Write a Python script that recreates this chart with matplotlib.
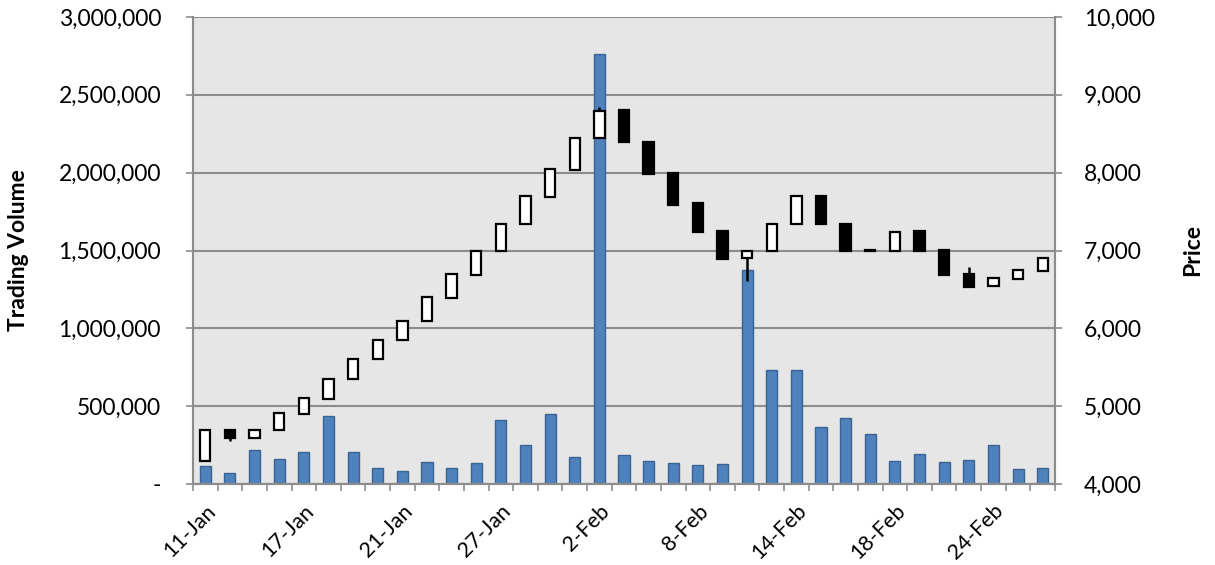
import matplotlib
matplotlib.use("Agg")
import matplotlib.pyplot as plt
from matplotlib.ticker import FuncFormatter

plt.rcParams["font.family"] = ["Lato", "DejaVu Sans"]

dates = ["11-Jan", "12-Jan", "13-Jan", "14-Jan", "17-Jan", "18-Jan", "19-Jan", "20-Jan",
         "21-Jan", "24-Jan", "25-Jan", "26-Jan", "27-Jan", "28-Jan", "31-Jan", "1-Feb",
         "2-Feb", "3-Feb", "4-Feb", "7-Feb", "8-Feb", "9-Feb", "10-Feb", "11-Feb",
         "14-Feb", "15-Feb", "16-Feb", "17-Feb", "18-Feb", "21-Feb", "22-Feb", "23-Feb",
         "24-Feb", "25-Feb", "28-Feb"]
volume = [117000, 69000, 218000, 159000, 207000, 439000, 204000, 105000,
          85000, 143000, 105000, 137000, 411000, 250000, 450000, 173000,
          2760000, 188000, 150000, 137000, 124000, 128000, 1375000, 730000,
          732000, 364000, 424000, 321000, 150000, 195000, 141000, 154000,
          249000, 96000, 105000]
opens = [4300, 4700, 4595, 4694, 4900, 5095, 5345, 5602,
         5846, 6094, 6394, 6690, 6994, 7340, 7691, 8034,
         8441, 8800, 8400, 8000, 7606, 7250, 6900, 7000,
         7340, 7700, 7345, 7010, 7000, 7252, 7004, 6698,
         6545, 6640, 6740]
closes = [4694, 4590, 4694, 4908, 5101, 5349, 5602, 5850,
          6098, 6398, 6698, 6998, 7340, 7700, 8043, 8445,
          8788, 8396, 7983, 7589, 7238, 6891, 6998, 7340,
          7700, 7340, 6990, 6990, 7242, 6990, 6685, 6535,
          6647, 6745, 6900]
highs = [4694, 4700, 4694, 4908, 5101, 5349, 5602, 5850,
         6098, 6398, 6698, 6998, 7340, 7700, 8043, 8445,
         8840, 8800, 8400, 8000, 7606, 7250, 6998, 7340,
         7700, 7700, 7345, 7010, 7242, 7252, 7004, 6792,
         6647, 6745, 6900]
lows = [4300, 4552, 4595, 4694, 4900, 5095, 5345, 5602,
        5846, 6094, 6394, 6690, 6994, 7340, 7691, 8034,
        8441, 8396, 7983, 7589, 7238, 6891, 6604, 7000,
        7340, 7340, 6990, 6990, 7000, 6990, 6685, 6535,
        6545, 6640, 6740]

_BG = "#E6E6E6"; _GRID = "#8C8C8C"; _BAR = "#4F81BD"; _BAR_EDGE = "#3A6393"
_FS = 16.5

x = list(range(len(dates)))
fig = plt.figure(figsize=(12.15, 5.65), dpi=100)
ax = fig.add_axes([193 / 1215, 1 - 484 / 565, (1055 - 193) / 1215, (484 - 17) / 565])
ax.set_facecolor(_BG)
ax.bar(x, volume, width=0.45, color=_BAR, edgecolor=_BAR_EDGE, linewidth=1, zorder=2)
ax.set_xlim(-0.5, len(dates) - 0.5)
ax.set_ylim(0, 3000000)
ax.set_yticks(range(0, 3000001, 500000))
ax.yaxis.set_major_formatter(FuncFormatter(lambda v, p: "-" if v == 0 else f"{v:,.0f}"))
ax.grid(axis="y", color=_GRID, linewidth=1.5, zorder=1)
ax.set_axisbelow(True)

# category boundaries carry the tick marks, labels sit at every 4th centre
ax.set_xticks([i - 0.5 for i in range(len(dates) + 1)])
ax.set_xticklabels([])
ax.set_xticks(x[::4], [dates[i] for i in x[::4]], minor=True)
ax.tick_params(axis="x", which="major", length=5, color=_GRID, width=1.2)
ax.tick_params(axis="x", which="minor", length=0, labelsize=15.5, pad=12)
for lbl in ax.get_xticklabels(minor=True):
    lbl.set_rotation(45); lbl.set_ha("right"); lbl.set_rotation_mode("anchor")
ax.tick_params(axis="y", length=5, color=_GRID, width=1.2, labelsize=_FS, pad=18)
ax.set_ylabel("Trading Volume", fontsize=16.5, fontweight="bold")
ax.yaxis.set_label_coords(-0.19, 0.5)
for side in ["left", "right", "bottom"]:
    ax.spines[side].set_color(_GRID); ax.spines[side].set_linewidth(1.5)
ax.spines["top"].set_visible(False)

ax2 = ax.twinx()
ax2.set_ylim(4000, 10000)
ax2.set_yticks(range(4000, 10001, 1000))
ax2.yaxis.set_major_formatter(FuncFormatter(lambda v, p: f"{v:,.0f}"))
ax2.tick_params(axis="y", length=5, color=_GRID, width=1.2, labelsize=_FS, pad=16)
ax2.set_ylabel("Price", fontsize=16.5, fontweight="bold")
ax2.yaxis.set_label_coords(1.148, 0.5)
for side in ["left", "right", "bottom"]:
    ax2.spines[side].set_color(_GRID); ax2.spines[side].set_linewidth(1.5)
ax2.spines["top"].set_visible(False)

ax2.vlines(x, lows, highs, color="black", linewidth=1.8, zorder=2)
bottoms = [min(o, c) for o, c in zip(opens, closes)]
heights = [abs(c - o) for o, c in zip(opens, closes)]
faces = ["white" if c >= o else "black" for o, c in zip(opens, closes)]
ax2.bar(x, heights, bottom=bottoms, width=0.42, color=faces, edgecolor="black",
        linewidth=1.6, zorder=3)

fig.savefig("out.png", dpi=100)
